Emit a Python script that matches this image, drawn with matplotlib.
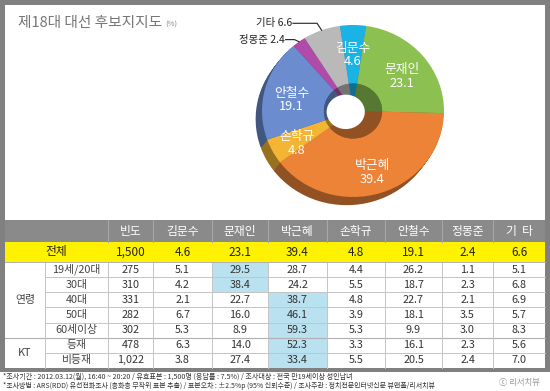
import numpy as np
import matplotlib
matplotlib.use("Agg")
import matplotlib.pyplot as plt
from matplotlib.patches import Rectangle, Ellipse
from matplotlib.colors import to_rgb

plt.rcParams['font.family'] = ['Noto Sans CJK KR', 'DejaVu Sans']

# pie data
candidates = ['김문수', '문재인', '박근혜', '손학규', '안철수', '정몽준', '기타']
shares = [4.6, 23.1, 39.4, 4.8, 19.1, 2.4, 6.6]
colors = ['#1bb3e6', '#8cc152', '#ec8337', '#f4b434', '#6b8dcf', '#b14ba9', '#b9b9b9']
inside = [True, True, True, True, True, False, False]

# table data
header = ['빈도', '김문수', '문재인', '박근혜', '손학규', '안철수', '정몽준', '기  타']
row_labels = ['19세/20대', '30대', '40대', '50대', '60세이상', '등재', '비등재']
groups = [('연령', 5), ('KT', 2)]
total_n = 1500
total_pct = [4.6, 23.1, 39.4, 4.8, 19.1, 2.4, 6.6]
counts = [275, 310, 331, 282, 302, 478, 1022]
pct = [
    [5.1, 29.5, 28.7, 4.4, 26.2, 1.1, 5.1],
    [4.2, 38.4, 24.2, 5.5, 18.7, 2.3, 6.8],
    [2.1, 22.7, 38.7, 4.8, 22.7, 2.1, 6.9],
    [6.7, 16.0, 46.1, 3.9, 18.1, 3.5, 5.7],
    [5.3, 8.9, 59.3, 5.3, 9.9, 3.0, 8.3],
    [6.3, 14.0, 52.3, 3.3, 16.1, 2.3, 5.6],
    [3.8, 27.4, 33.4, 5.5, 20.5, 2.4, 7.0],
]

notes = [
    '*조사기간 : 2012.03.12(월), 16:40 ~ 20:20 / 유효표본 : 1,500명 (응답률 : 7.5%) / 조사대상 : 전국 만19세이상 성인남녀',
    '*조사방법 : ARS(RDD) 유선전화조사 (층화층 무작위 표본 추출) / 표본오차 : ±2.5%p (95% 신뢰수준) / 조사주관 : 정치전문인터넷신문 뷰앤폴/리서치뷰',
]

W, H = 550, 391
fig = plt.figure(figsize=(W / 100, H / 100), dpi=100)
ax = fig.add_axes([0, 0, 1, 1])
ax.set_xlim(0, W)
ax.set_ylim(H, 0)
ax.axis('off')

# frame and panels
ax.add_patch(Rectangle((0, 0), W, 372, fc='#808080', ec='none'))
ax.add_patch(Rectangle((5, 5), 540, 215, fc='white', ec='none'))
ax.text(18, 23, '제18대 대선 후보지지도', fontsize=10.6, color='#777777', va='center')
ax.text(165, 25, '(%)', fontsize=5.5, color='#888888', va='center')

col_edges = [5, 45, 108, 153, 212, 268, 327, 385, 442, 493, 545]
hdr_top, hdr_bot, yel_bot, data_bot = 220, 242, 262, 368
rh = (data_bot - yel_bot) / len(row_labels)

# header row
ax.add_patch(Rectangle((5, hdr_top), 540, hdr_bot - hdr_top, fc='#8a8a8a', ec='none'))
for i, h in enumerate(header):
    x0, x1 = col_edges[i + 2], col_edges[i + 3]
    ax.text((x0 + x1) / 2, (hdr_top + hdr_bot) / 2, h, fontsize=8.5, color='white',
            ha='center', va='center')
for x in col_edges[2:-1]:
    ax.plot([x, x], [hdr_top, hdr_bot], color='#a8a8a8', lw=0.8)

# total row
ax.add_patch(Rectangle((5, hdr_bot), 540, yel_bot - hdr_bot, fc='#fff200', ec='none'))
ym = (hdr_bot + yel_bot) / 2
ax.text((col_edges[0] + col_edges[2]) / 2, ym, '전체', fontsize=8.5, color='#222222',
        ha='center', va='center')
ax.text((col_edges[2] + col_edges[3]) / 2, ym, f'{total_n:,}', fontsize=8.5,
        color='#222222', ha='center', va='center')
for j, v in enumerate(total_pct):
    ax.text((col_edges[j + 3] + col_edges[j + 4]) / 2, ym, f'{v:.1f}', fontsize=8.5,
            color='#222222', ha='center', va='center')

# data rows
ax.add_patch(Rectangle((5, yel_bot), 540, data_bot - yel_bot, fc='white', ec='none'))
for r, lab in enumerate(row_labels):
    y0 = yel_bot + r * rh
    yc = y0 + rh / 2
    best = int(np.argmax(pct[r]))
    ax.add_patch(Rectangle((col_edges[best + 3], y0), col_edges[best + 4] - col_edges[best + 3],
                           rh, fc='#b9e1ef', ec='none'))
    ax.text((col_edges[1] + col_edges[2]) / 2, yc, lab, fontsize=7.8, color='#444444',
            ha='center', va='center')
    ax.text((col_edges[2] + col_edges[3]) / 2, yc, f'{counts[r]:,}', fontsize=7.8,
            color='#333333', ha='center', va='center')
    for j, v in enumerate(pct[r]):
        ax.text((col_edges[j + 3] + col_edges[j + 4]) / 2, yc, f'{v:.1f}', fontsize=7.8,
                color='#333333', ha='center', va='center')

# grid lines
start = 0
for name, n in groups:
    for k in range(1, n):
        y = yel_bot + (start + k) * rh
        ax.plot([col_edges[1], 545], [y, y], color='#c4c4c4', lw=0.7)
    yc = yel_bot + (start + n / 2) * rh
    ax.text((col_edges[0] + col_edges[1]) / 2, yc, name, fontsize=7.8, color='#444444',
            ha='center', va='center')
    start += n
    if start < len(row_labels):
        y = yel_bot + start * rh
        ax.plot([5, 545], [y, y], color='#b0b0b0', lw=0.8)
for x in col_edges[1:-1]:
    ax.plot([x, x], [yel_bot, data_bot], color='#c4c4c4', lw=0.7)
ax.plot([5, 545], [yel_bot, yel_bot], color='#b0b0b0', lw=0.7)

# footnotes
ax.text(3, 377, notes[0], fontsize=5.1, color='#333333', va='center')
ax.text(3, 385.5, notes[1], fontsize=5.0, color='#333333', va='center')
ax.text(540, 383, 'ⓒ 리서치뷰', fontsize=6, color='#999999', ha='right', va='center')

# pie (3d-ish donut)
cx, cy, rx, ry = 353, 111, 91, 86
pax = fig.add_axes([(cx - rx) / W, 1 - (cy + ry) / H, 2 * rx / W, 2 * ry / H])
pax.axis('off')
start_ang = 90 + shares[0] * 3.6 / 2
dark = [tuple(c * 0.62 for c in to_rgb(col)) for col in colors]
for t in np.linspace(1, 0.1, 10):
    pax.pie(shares, colors=dark, startangle=start_ang, counterclock=False,
            center=(-0.07 * t, -0.095 * t), radius=1, wedgeprops=dict(lw=0))
wedges, _ = pax.pie(shares, colors=colors, startangle=start_ang, counterclock=False,
                    radius=1, wedgeprops=dict(width=0.68, lw=0))
pax.pie(shares, colors=dark, startangle=start_ang, counterclock=False,
        radius=0.32, wedgeprops=dict(lw=0))
pax.add_patch(Ellipse((-0.08, -0.01), 0.42, 0.40, fc='white', ec='none', zorder=5))
pax.set_aspect('auto')
pax.set_xlim(-1, 1)
pax.set_ylim(-1, 1)

for i, w in enumerate(wedges):
    mid = np.deg2rad((w.theta1 + w.theta2) / 2)
    if inside[i]:
        pax.text(0.7 * np.cos(mid), 0.7 * np.sin(mid) - 0.05,
                 f'{candidates[i]}\n{shares[i]}',
                 fontsize=9.2, color='white', ha='center', va='center', linespacing=1.05,
                 zorder=6)

# outside labels with leader lines
for i, tx, ty in [(6, -0.66, 1.02), (5, -0.74, 0.83)]:
    w = wedges[i]
    mid = np.deg2rad((w.theta1 + w.theta2) / 2)
    ex, ey = np.cos(mid), np.sin(mid)
    pax.plot([ex, ex - 0.05, tx], [ey, ty, ty], color='#222222', lw=0.8, clip_on=False)
    pax.text(tx - 0.01, ty, f'{candidates[i]} {shares[i]}', fontsize=7.5, color='#222222',
             ha='right', va='center', clip_on=False)

fig.savefig('out.png', dpi=100)
